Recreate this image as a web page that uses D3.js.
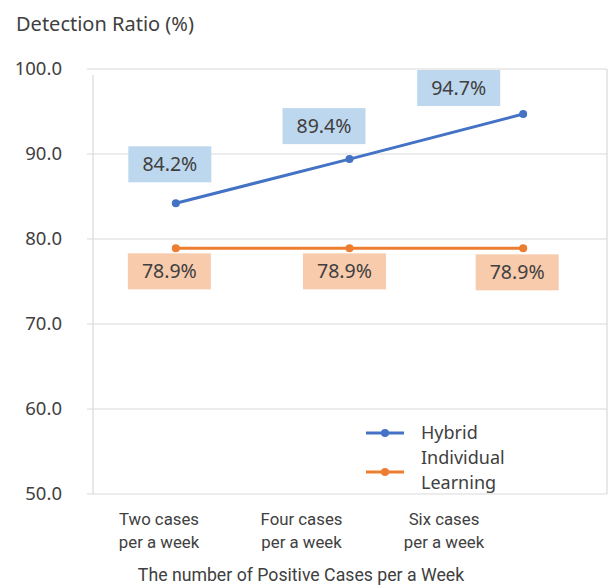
<!DOCTYPE html>
<html>
<head>
<meta charset="utf-8">
<script src="https://cdn.jsdelivr.net/npm/d3@7"></script>
<style>
  body { margin: 0; background: #fff; }
  text { font-family: "Noto Sans", "Open Sans", sans-serif; fill: #404040; }
  .narrow { font-family: Roboto, "Noto Sans", sans-serif; }
</style>
</head>
<body>
<div id="chart"></div>
<script>
// chart data
const categories = ['Two cases per a week', 'Four cases per a week', 'Six cases per a week'];
const categoryLines = [['Two cases', 'per a week'], ['Four cases', 'per a week'], ['Six cases', 'per a week']];
const hybrid = [84.2, 89.4, 94.7];
const individual = [78.9, 78.9, 78.9];
const yTicks = [50, 60, 70, 80, 90, 100];
const seriesNames = ['Hybrid', 'Individual Learning'];

const W = 608, H = 585;
const plotLeft = 89, plotRight = 610, plotTop = 69, plotBottom = 494;

const svg = d3.select('#chart').append('svg')
    .attr('width', W)
    .attr('height', H);

const x = d3.scaleBand().domain(categories).range([plotLeft, plotRight]);
const cx = c => x(c) + x.bandwidth() / 2;
const y = d3.scaleLinear().domain([50, 100]).range([plotBottom, plotTop]);

// gridlines
svg.append('g').selectAll('line')
    .data(yTicks)
    .enter().append('line')
    .attr('x1', plotLeft - 2).attr('x2', 607)
    .attr('y1', d => y(d)).attr('y2', d => y(d))
    .attr('stroke', '#d9d9d9').attr('stroke-width', 1.2);

// plot area borders
svg.append('line').attr('x1', 93).attr('x2', 93).attr('y1', plotTop + 6).attr('y2', plotBottom)
    .attr('stroke', '#d9d9d9').attr('stroke-width', 1.2);
svg.append('line').attr('x1', 607).attr('x2', 607).attr('y1', plotTop).attr('y2', plotBottom)
    .attr('stroke', '#d9d9d9').attr('stroke-width', 1.2);

// y tick labels
svg.append('g').selectAll('text')
    .data(yTicks)
    .enter().append('text')
    .attr('x', 62).attr('y', d => y(d))
    .attr('dy', '0.35em')
    .attr('text-anchor', 'end')
    .style('font-size', '18.5px')
    .text(d => d.toFixed(1));

// y title
svg.append('text').attr('x', 16).attr('y', 24).attr('dy', '0.35em')
    .style('font-size', '20px').text('Detection Ratio (%)');

// x labels (they sit a little left of the points in the source)
const xLabel = d3.scalePoint().domain(categories).range([159, 444]);
categoryLines.forEach((lines, i) => {
    const t = svg.append('text').attr('class', 'narrow').attr('text-anchor', 'middle').style('font-size', '16.8px');
    lines.forEach((l, j) => {
        t.append('tspan').attr('x', xLabel(categories[i])).attr('y', 519 + j * 23).attr('dy', '0.35em').text(l);
    });
});

svg.append('text').attr('class', 'narrow').attr('x', 301).attr('y', 575).attr('dy', '0.35em')
    .attr('text-anchor', 'middle').style('font-size', '17.7px')
    .text('The number of Positive Cases per a Week');

// lines + markers
const line = d3.line().x((d, i) => cx(categories[i])).y(d => y(d));
const series = [
    { name: seriesNames[0], values: hybrid, color: '#4472c4', fill: '#bdd7ee',
      offsets: [[-6, -39], [-25.5, -33], [-64.5, -26]] },
    { name: seriesNames[1], values: individual, color: '#ed7d31', fill: '#f8cbad',
      offsets: [[-6.5, 23], [-5, 23], [-6, 24]] }
];

series.forEach(s => {
    svg.append('path').datum(s.values)
        .attr('d', line)
        .attr('fill', 'none')
        .attr('stroke', s.color)
        .attr('stroke-width', 3);
    svg.append('g').selectAll('circle')
        .data(s.values)
        .enter().append('circle')
        .attr('cx', (d, i) => cx(categories[i]))
        .attr('cy', d => y(d))
        .attr('r', 4)
        .attr('fill', s.color);

    // data labels
    const lab = svg.append('g').selectAll('g')
        .data(s.values)
        .enter().append('g')
        .attr('transform', (d, i) => `translate(${cx(categories[i]) + s.offsets[i][0]},${y(d) + s.offsets[i][1]})`);
    lab.append('rect')
        .attr('x', -41.5).attr('y', -18)
        .attr('width', 83).attr('height', 36)
        .attr('fill', s.fill);
    lab.append('text')
        .attr('text-anchor', 'middle').attr('dy', '0.35em')
        .style('font-size', '19.5px')
        .text(d => d.toFixed(1) + '%');
});

// legend
const lg = svg.append('g');
[[433, 0], [472, 1]].forEach(([ly, k]) => {
    lg.append('line').attr('x1', 366).attr('x2', 404).attr('y1', ly).attr('y2', ly)
        .attr('stroke', series[k].color).attr('stroke-width', 3);
    lg.append('circle').attr('cx', 385).attr('cy', ly).attr('r', 4).attr('fill', series[k].color);
});
lg.append('text').attr('x', 421).attr('y', 433).attr('dy', '0.35em').style('font-size', '18px').text('Hybrid');
lg.append('text').attr('x', 421).attr('y', 457.5).attr('dy', '0.35em').style('font-size', '18px').text('Individual');
lg.append('text').attr('x', 421).attr('y', 482.5).attr('dy', '0.35em').style('font-size', '18px').text('Learning');
</script>
</body>
</html>
